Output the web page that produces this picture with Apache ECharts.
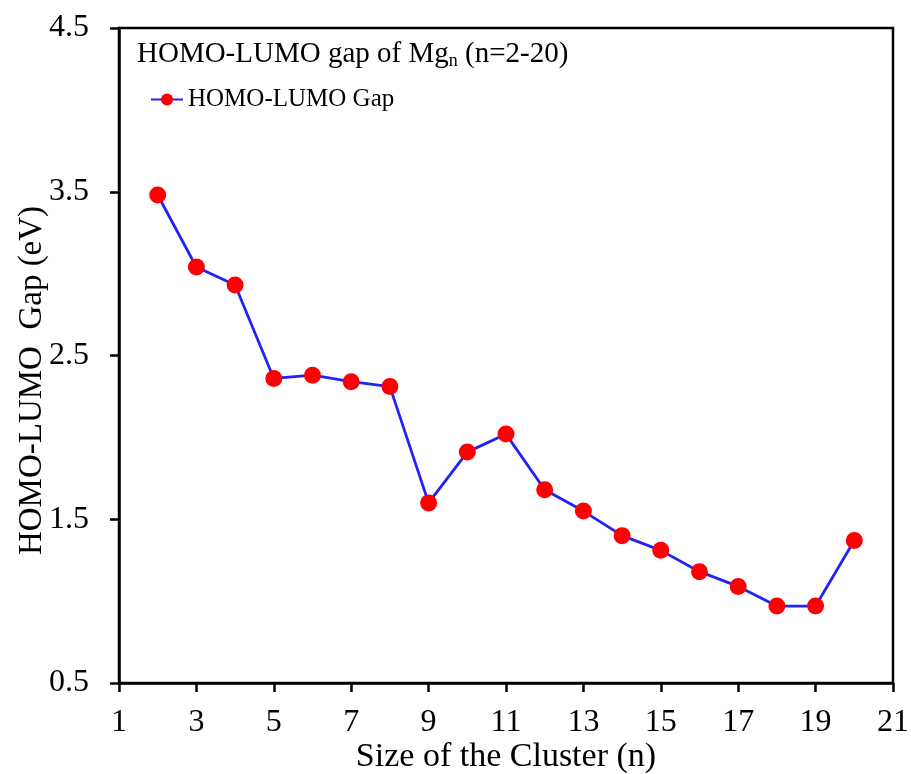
<!DOCTYPE html>
<html>
<head>
<meta charset="utf-8">
<script src="https://cdn.jsdelivr.net/npm/echarts@6/dist/echarts.min.js"></script>
<style>
  html, body { margin: 0; padding: 0; background: #fff; }
  #chart { width: 911px; height: 774px; }
</style>
</head>
<body>
<div id="chart"></div>
<script>
// cluster size n and HOMO-LUMO gap (eV)
const clusterSize = [2, 3, 4, 5, 6, 7, 8, 9, 10, 11, 12, 13, 14, 15, 16, 17, 18, 19, 20];
const gapValues = [3.48, 3.04, 2.93, 2.36, 2.38, 2.34, 2.31, 1.60, 1.91, 2.02, 1.68, 1.55, 1.40, 1.31, 1.18, 1.09, 0.97, 0.97, 1.37];

const FONT = "'Liberation Serif', 'Times New Roman', serif";

const chart = echarts.init(document.getElementById('chart'));

const option = {
  backgroundColor: '#fff',
  animation: false,
  title: {
    text: '{a|HOMO-LUMO gap of Mg}{s|n}{a| (n=2-20)}',
    left: 137,
    top: 38,
    padding: 0,
    textStyle: {
      rich: {
        a: { fontFamily: FONT, fontSize: 29, fontWeight: 'normal', color: '#000', lineHeight: 32 },
        s: { fontFamily: FONT, fontSize: 18, fontWeight: 'normal', color: '#000', lineHeight: 14, verticalAlign: 'bottom' }
      }
    }
  },
  legend: {
    left: 150,
    top: 87,
    padding: 0,
    itemWidth: 32,
    itemHeight: 15,
    textStyle: { fontFamily: FONT, fontSize: 25, color: '#000' },
    data: ['HOMO-LUMO Gap']
  },
  grid: {
    left: 119,
    right: 18,
    top: 28,
    bottom: 91,
    outerBoundsMode: 'none',
    containLabel: false,
    show: true,
    borderColor: '#000',
    borderWidth: 2.5,
    backgroundColor: 'transparent'
  },
  xAxis: {
    type: 'value',
    min: 1,
    max: 21,
    interval: 2,
    name: 'Size of the Cluster (n)',
    nameLocation: 'middle',
    nameGap: 57,
    nameMoveOverlap: false,
    nameTextStyle: { fontFamily: FONT, fontSize: 34, color: '#000' },
    axisLine: { show: true, onZero: false, lineStyle: { color: '#000', width: 2.5 } },
    axisTick: { show: true, inside: false, length: 9, lineStyle: { color: '#000', width: 2.5 } },
    axisLabel: { margin: 24, fontFamily: FONT, fontSize: 32, color: '#000' },
    splitLine: { show: false }
  },
  yAxis: {
    type: 'value',
    min: 0.5,
    max: 4.5,
    interval: 1,
    name: 'HOMO-LUMO  Gap (eV)',
    nameLocation: 'middle',
    nameGap: 70,
    nameMoveOverlap: false,
    nameTextStyle: { fontFamily: FONT, fontSize: 33, color: '#000', padding: [0, 50, 0, 0] },
    axisLine: { show: true, onZero: false, lineStyle: { color: '#000', width: 2.5 } },
    axisTick: { show: true, inside: false, length: 9, lineStyle: { color: '#000', width: 2.5 } },
    axisLabel: {
      margin: 30,
      fontFamily: FONT,
      fontSize: 32,
      color: '#000',
      formatter: v => v.toFixed(1)
    },
    splitLine: { show: false }
  },
  series: [{
    name: 'HOMO-LUMO Gap',
    type: 'line',
    data: clusterSize.map((n, i) => [n, gapValues[i]]),
    symbol: 'circle',
    symbolSize: 17,
    lineStyle: { color: '#2222f5', width: 2.8 },
    itemStyle: { color: '#ff0000', borderWidth: 0 }
  }]
};

chart.setOption(option);
</script>
</body>
</html>
